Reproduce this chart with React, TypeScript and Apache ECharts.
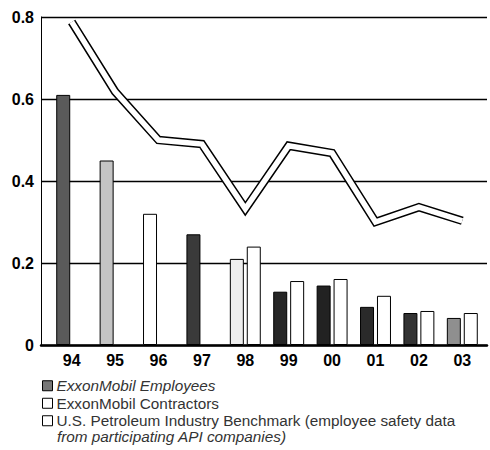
import React, { useEffect, useRef } from "react";
import * as echarts from "echarts";

const years = ["94", "95", "96", "97", "98", "99", "00", "01", "02", "03"];
const employees = [0.61, 0.45, 0.32, 0.27, 0.21, 0.13, 0.145, 0.093, 0.078, 0.066];
const contractors = [null, null, null, null, 0.24, 0.156, 0.161, 0.12, 0.083, 0.078];
const benchmark = [0.788, 0.618, 0.5, 0.49, 0.332, 0.486, 0.468, 0.3, 0.336, 0.303];
const yTicks = [0, 0.2, 0.4, 0.6, 0.8];

const employeeShades = ["#5a5a5a", "#c4c4c4", "#ffffff", "#3a3a3a", "#eeeeee", "#262626", "#222222", "#2a2a2a", "#333333", "#8f8f8f"];

const FONT = '"Liberation Sans", Arial, Helvetica, sans-serif';
const LEGEND_SIZE = 15.3;

export default function App() {
  const ref = useRef<HTMLDivElement>(null);
  useEffect(() => {
    if (!ref.current) return;
    const chart = echarts.init(ref.current, null, { renderer: "svg" });
    const option: any = {
      animation: false,
      backgroundColor: "#fff",
      textStyle: { fontFamily: FONT },
      grid: [
        { left: 41, right: 3, top: 17, bottom: 105 },
        { left: 50, right: 6, top: 17, bottom: 105 },
      ],
      xAxis: [
        {
          type: "value",
          gridIndex: 0,
          min: 0,
          max: 1,
          axisLabel: { show: false },
          axisTick: { show: false },
          splitLine: { show: false },
          axisLine: { show: true, lineStyle: { color: "#000", width: 2.5 } },
        },
        {
          type: "category",
          gridIndex: 1,
          data: years,
          axisLine: { show: false },
          axisTick: { show: false },
          axisLabel: {
            margin: 7,
            color: "#000",
            fontWeight: "bold",
            fontSize: 16,
            fontFamily: FONT,
          },
        },
      ],
      yAxis: [
        {
          type: "value",
          gridIndex: 0,
          min: yTicks[0],
          max: yTicks[yTicks.length - 1],
          interval: 0.2,
          axisLine: { show: true, lineStyle: { color: "#000", width: 1 } },
          axisTick: { show: false },
          splitLine: { show: true, lineStyle: { color: "#000", width: 1.3 } },
          axisLabel: {
            margin: 7,
            color: "#000",
            fontWeight: "bold",
            fontSize: 16,
            fontFamily: FONT,
            formatter: (v: number) => (v === 0 ? "0" : v.toFixed(1)),
          },
        },
        {
          type: "value",
          gridIndex: 1,
          min: yTicks[0],
          max: yTicks[yTicks.length - 1],
          show: false,
        },
      ],
      legend: {
        orient: "vertical",
        left: 42,
        top: 377,
        padding: 0,
        itemWidth: 10,
        itemHeight: 10,
        itemGap: 0,
        selectedMode: false,
        textStyle: {
          fontFamily: FONT,
          fontSize: LEGEND_SIZE,
          color: "#333",
          lineHeight: 17.5,
          padding: [0, 0, 0, -1],
        },
        data: [
          {
            name: "ExxonMobil Employees",
            icon: "rect",
            itemStyle: { color: "#777", borderColor: "#000", borderWidth: 1 },
            textStyle: { fontStyle: "italic" },
          },
          {
            name: "ExxonMobil Contractors",
            icon: "rect",
            itemStyle: { color: "#fff", borderColor: "#000", borderWidth: 1 },
          },
          {
            name: "U.S. Petroleum Industry Benchmark (employee safety data",
            icon: "rect",
            itemStyle: { color: "#fff", borderColor: "#000", borderWidth: 1 },
          },
        ],
      },
      graphic: [
        {
          type: "text",
          left: 57,
          top: 429,
          style: {
            text: "from participating API companies)",
            fontFamily: FONT,
            fontSize: LEGEND_SIZE,
            fontStyle: "italic",
            fill: "#333",
          },
        },
      ],
      series: [
        {
          name: "ExxonMobil Employees",
          type: "bar",
          xAxisIndex: 1,
          yAxisIndex: 1,
          barWidth: 14,
          barGap: "21%",
          data: employees.map((v, i) => ({
            value: v,
            itemStyle: { color: employeeShades[i] },
          })),
          itemStyle: { borderColor: "#000", borderWidth: 1 },
        },
        {
          name: "ExxonMobil Contractors",
          type: "bar",
          xAxisIndex: 1,
          yAxisIndex: 1,
          barWidth: 14,
          barGap: "21%",
          data: contractors,
          itemStyle: { color: "#fff", borderColor: "#000", borderWidth: 1 },
        },
        {
          name: "U.S. Petroleum Industry Benchmark (employee safety data",
          type: "line",
          xAxisIndex: 1,
          yAxisIndex: 1,
          data: benchmark,
          symbol: "none",
          lineStyle: { color: "#000", width: 8.5, join: "miter", cap: "butt" },
          itemStyle: { color: "#fff" },
          z: 3,
        },
        {
          name: "benchmark-inner",
          type: "line",
          xAxisIndex: 1,
          yAxisIndex: 1,
          data: benchmark,
          symbol: "none",
          lineStyle: { color: "#fff", width: 5.5, join: "miter", cap: "butt" },
          z: 4,
        },
      ],
    };
    chart.setOption(option);
    return () => chart.dispose();
  }, []);
  return (
    <div
      ref={ref}
      style={{ position: "fixed", left: 0, top: 0, width: 490, height: 450, background: "#fff" }}
    />
  );
}
